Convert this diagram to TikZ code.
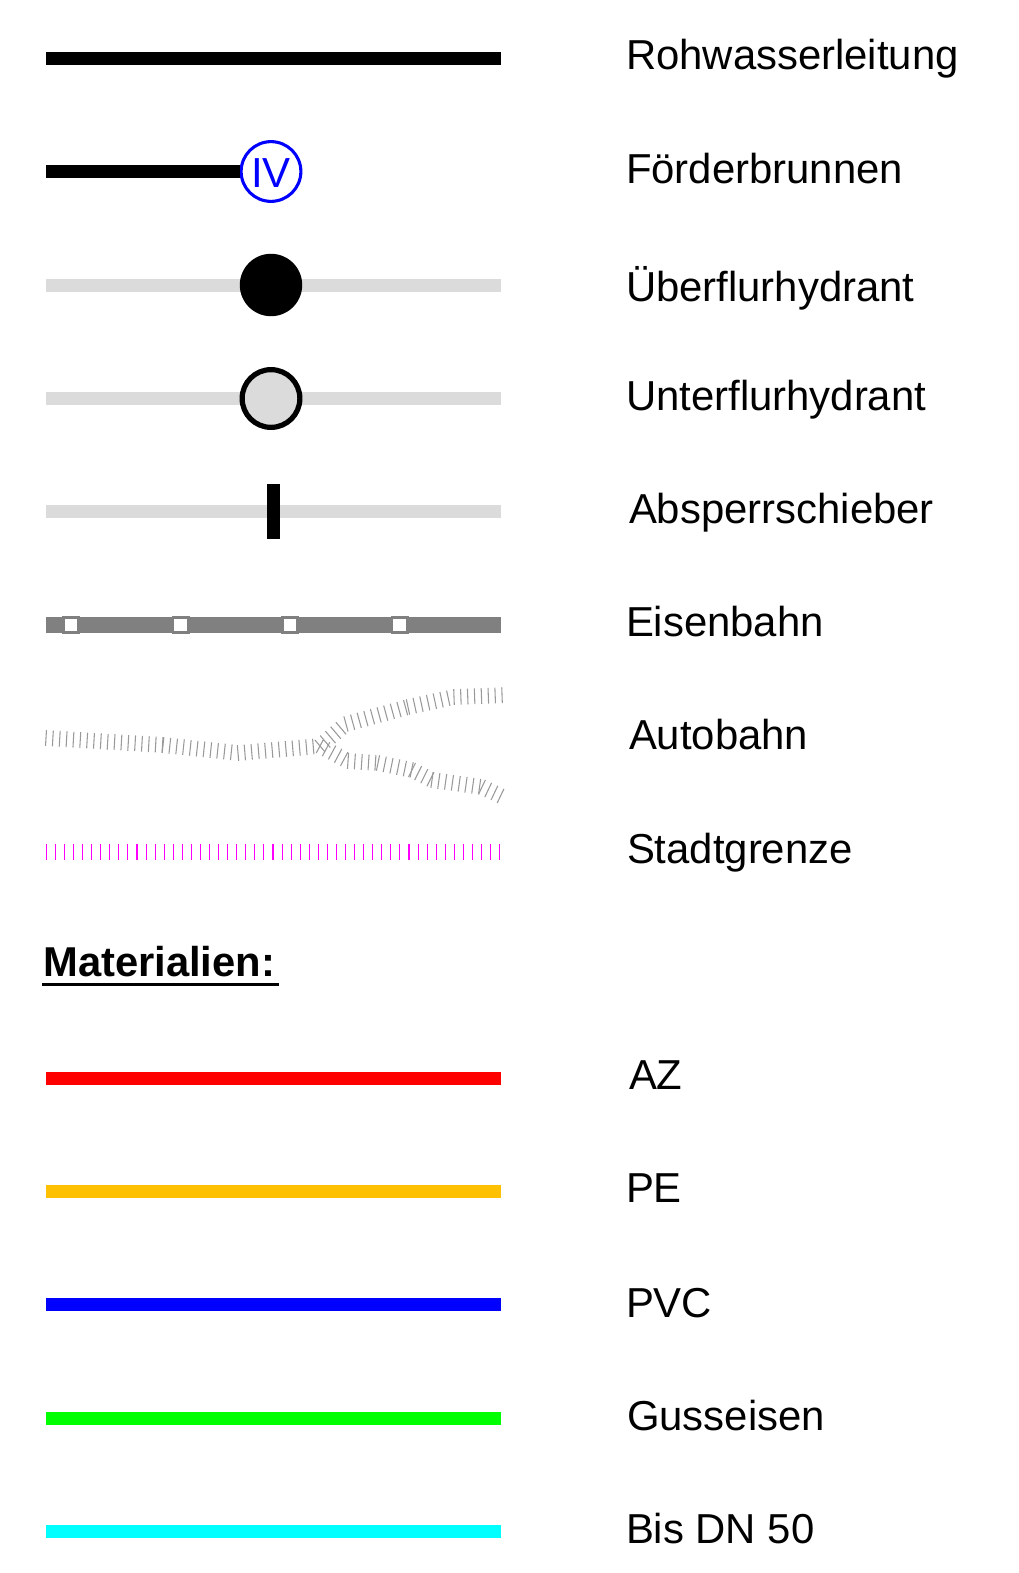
\documentclass[tikz,border=0pt]{standalone}
\usepackage{fontspec}
\setmainfont{Liberation Sans}
\usetikzlibrary{decorations.pathreplacing}
\definecolor{lightband}{RGB}{219,219,219}
\definecolor{railgray}{RGB}{128,128,128}
\definecolor{peorange}{RGB}{255,192,0}
\definecolor{cigreen}{RGB}{0,255,0}
\definecolor{dncyan}{RGB}{0,255,255}
\definecolor{citymag}{RGB}{255,0,255}
\tikzset{
  band/.style={line width=9.75pt},
  legendlabel/.style={anchor=base west,inner sep=0pt,outer sep=0pt,font=\fontsize{31.4pt}{36pt}\selectfont},
  roundmark/.style={circle,inner sep=0pt,minimum size=46.8pt},
  tiesq/.style={draw=railgray,fill=white,line width=2pt,minimum size=11.5pt,inner sep=0pt},
  autoticks/.style={draw=black!40,line width=.8pt,decorate,decoration={ticks,segment length=5.15pt,amplitude=5.9pt}},
  cityticks/.style={draw=citymag,line width=.8pt,decorate,decoration={ticks,segment length=6.8pt,amplitude=6pt}},
}
\begin{document}
\begin{tikzpicture}[x=.75pt,y=-.75pt]
\useasboundingbox (0,0) rectangle (1018,1573);
% Rohwasserleitung
\coordinate (r1) at (46,58.5); \coordinate (r2) at (501,58.5);
\draw[band,black] (r1) -- (r2);
\node[legendlabel] (lr) at (626,69.5) {Rohwasserleitung};
% Foerderbrunnen
\coordinate (f1) at (46,171.5);
\node[roundmark,draw=blue,fill=white,line width=2.3pt,minimum size=44.8pt,text=blue,font=\fontsize{31.5pt}{36pt}\selectfont] (iv) at (271,171.5) {\raisebox{-1.2pt}[\height][0pt]{IV}};
\draw[band,black] (f1) -- (iv);
\node[legendlabel] (lf) at (626,183) {Förderbrunnen};
% Ueberflurhydrant
\coordinate (u1) at (46,285); \coordinate (u2) at (501,285);
\draw[band,lightband] (u1) -- (u2);
\node[roundmark,fill=black] (uh) at (271,285) {};
\node[legendlabel] (lu) at (626,301.5) {Überflurhydrant};
% Unterflurhydrant
\coordinate (v1) at (46,398.5); \coordinate (v2) at (501,398.5);
\draw[band,lightband] (v1) -- (v2);
\node[roundmark,draw=black,fill=lightband,line width=3.9pt,minimum size=43.3pt] (vh) at (271,398.5) {};
\node[legendlabel] (lv) at (626,410) {Unterflurhydrant};
% Absperrschieber
\coordinate (a1) at (46,511.5); \coordinate (a2) at (501,511.5);
\draw[band,lightband] (a1) -- (a2);
\node[fill=black,minimum width=9.5pt,minimum height=41.5pt,inner sep=0pt] (as) at (273.5,511.5) {};
\node[legendlabel] (la) at (629,523) {Absperrschieber};
% Eisenbahn
\coordinate (e1) at (46,625); \coordinate (e2) at (501,625);
\draw[line width=12pt,railgray] (e1) -- (e2);
\foreach \n/\x in {s1/71,s2/180.5,s3/290,s4/399.5}
  \node[tiesq] (\n) at (\x,625) {};
\node[legendlabel] (le) at (626,636) {Eisenbahn};
% Autobahn
\coordinate (b0) at (46,738); \coordinate (b1) at (163,745); \coordinate (b2) at (238,753);
\coordinate (j) at (320,746);
\coordinate (c1) at (346,724); \coordinate (c2) at (408,707); \coordinate (c3) at (454,697); \coordinate (c4) at (508,695);
\coordinate (d1) at (348,761); \coordinate (d2) at (378,763); \coordinate (d3) at (412,770); \coordinate (d4) at (432,780); \coordinate (d5) at (482,787); \coordinate (d6) at (503,797);
\draw[autoticks] (b0) -- (b1);
\draw[autoticks] (b1) -- (b2);
\draw[autoticks] (b2) -- (j);
\draw[autoticks] (j) -- (c1);
\draw[autoticks] (c1) -- (c2);
\draw[autoticks] (c2) -- (c3);
\draw[autoticks] (c3) -- (c4);
\draw[autoticks] (j) -- (d1);
\draw[autoticks] (d1) -- (d2);
\draw[autoticks] (d2) -- (d3);
\draw[autoticks] (d3) -- (d4);
\draw[autoticks] (d4) -- (d5);
\draw[autoticks] (d5) -- (d6);
\node[legendlabel] (lb) at (629,749) {Autobahn};
% Stadtgrenze
\coordinate (g1) at (46.3,851.5); \coordinate (g2) at (503,851.5);
\draw[cityticks] (g1) -- (g2);
\node[legendlabel] (lg) at (627,863.5) {Stadtgrenze};
% Materialien
\node[anchor=base west,inner sep=0pt,font=\bfseries\fontsize{31.3pt}{36pt}\selectfont] (mat) at (43,976) {Materialien:};
\coordinate (mu1) at (42,984.5); \coordinate (mu2) at (278.5,984.5);
\draw[line width=1.9pt,black] (mu1) -- (mu2);
% Materials
\foreach \n/\y/\c/\t/\tx/\ty in {
  m1/1078/red/AZ/629/1089,
  m2/1191.5/peorange/PE/626/1202.5,
  m3/1304.5/blue/PVC/626/1317,
  m4/1418/cigreen/Gusseisen/627/1430,
  m5/1531.5/dncyan/Bis DN 50/626/1543}{
  \coordinate (\n a) at (46,\y); \coordinate (\n b) at (501,\y);
  \draw[band,\c] (\n a) -- (\n b);
  \node[legendlabel] (\n l) at (\tx,\ty) {\t};
}
\end{tikzpicture}
\end{document}
